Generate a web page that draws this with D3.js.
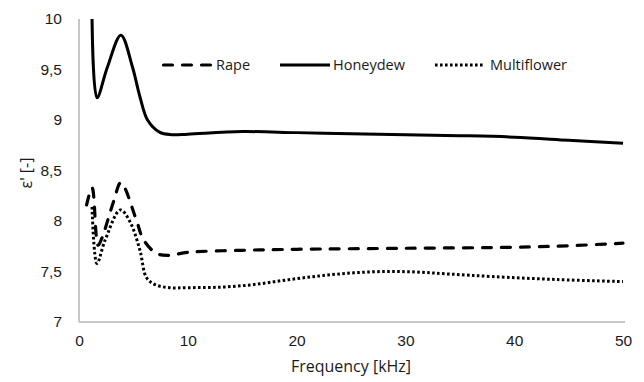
<!DOCTYPE html>
<html>
<head>
<meta charset="utf-8">
<script src="https://cdn.jsdelivr.net/npm/d3@7"></script>
<style>
  html, body { margin: 0; padding: 0; background: #fff; }
  svg { display: block; font-family: "Open Sans", "Liberation Sans", sans-serif; }
</style>
</head>
<body>
<svg id="chart" width="644" height="382"></svg>
<script>
// Permittivity of honey types vs. frequency
const honeydewFreq = [1.2, 1.65, 2.6, 3.85, 4.9, 5.6, 6.3, 7.4, 8.5, 10, 15, 20, 25, 30, 35, 40, 45, 50];
const honeydewVals = [10.0, 9.22, 9.52, 9.84, 9.53, 9.23, 9.0, 8.88, 8.855, 8.86, 8.885, 8.875, 8.865, 8.855, 8.845, 8.83, 8.80, 8.77];

const rapeFreq = [0.7, 1.2, 1.75, 2.1, 3.2, 3.85, 5.3, 5.9, 7.1, 8.2, 10, 15, 20, 30, 40, 45, 50];
const rapeVals = [8.16, 8.33, 7.76, 7.83, 8.2, 8.38, 8.0, 7.82, 7.68, 7.66, 7.69, 7.71, 7.72, 7.73, 7.74, 7.755, 7.78];

const multiFreq = [1.2, 1.65, 2.4, 3.8, 4.7, 5.6, 6.2, 7.0, 8.3, 10, 13, 16, 19, 22, 25, 28, 31, 34, 38, 44, 50];
const multiVals = [8.14, 7.58, 7.81, 8.11, 7.99, 7.71, 7.44, 7.37, 7.34, 7.34, 7.345, 7.37, 7.415, 7.455, 7.485, 7.50, 7.495, 7.475, 7.45, 7.42, 7.40];

const xTicks = [0, 10, 20, 30, 40, 50];
const yTicks = [7, 7.5, 8, 8.5, 9, 9.5, 10];

const seriesNames = ["Rape", "Honeydew", "Multiflower"];

const svg = d3.select("#chart");
const plotLeft = 79, plotRight = 623, plotTop = 19, plotBottom = 322;

const x = d3.scaleLinear().domain([0, 50]).range([plotLeft, plotRight]);
const y = d3.scaleLinear().domain([7, 10]).range([plotBottom, plotTop]);

const fmt = v => String(v).replace(".", ",");
const textColor = "#1a1a1a";

// Axes
const xAxis = svg.append("g").attr("transform", `translate(0,${plotBottom})`)
  .call(d3.axisBottom(x).tickValues(xTicks).tickSize(0).tickPadding(13).tickFormat(d => d));
xAxis.select(".domain").attr("stroke", "#c8c8c8").attr("stroke-width", 2)
  .attr("d", `M${plotLeft},0H${plotRight + 2}`);
xAxis.selectAll("text").attr("font-size", 15.5).attr("fill", textColor);

const yAxis = svg.append("g").attr("transform", `translate(${plotLeft},0)`)
  .call(d3.axisLeft(y).tickValues(yTicks).tickSize(0).tickPadding(17).tickFormat(fmt));
yAxis.select(".domain").attr("stroke", "#c8c8c8").attr("stroke-width", 2)
  .attr("d", `M0,${plotTop}V${plotBottom}`);
yAxis.selectAll("text").attr("font-size", 15.5).attr("fill", textColor);

// Axis titles
svg.append("text").attr("x", 351).attr("y", 372).attr("text-anchor", "middle")
  .attr("font-size", 16).attr("fill", textColor).text("Frequency [kHz]");
svg.append("text").attr("transform", "translate(32,173) rotate(-90)")
  .attr("text-anchor", "middle").attr("font-size", 16).attr("fill", textColor).text("ε' [-]");

// Curves
const line = d3.line().x(d => x(d[0])).y(d => y(d[1])).curve(d3.curveCatmullRom.alpha(0.5));
const styles = {
  Rape: { dash: "9,10", cap: "round", w: 3.2 },
  Honeydew: { dash: null, cap: "butt", w: 3 },
  Multiflower: { dash: "2.6,2.4", cap: "butt", w: 3 }
};
const data = {
  Rape: d3.zip(rapeFreq, rapeVals),
  Honeydew: d3.zip(honeydewFreq, honeydewVals),
  Multiflower: d3.zip(multiFreq, multiVals)
};

seriesNames.forEach(name => {
  const s = styles[name];
  svg.append("path").datum(data[name]).attr("d", line)
    .attr("fill", "none").attr("stroke", "#000").attr("stroke-width", s.w)
    .attr("stroke-linecap", s.cap).attr("stroke-dasharray", s.dash);
});

// Legend
const legendItems = [
  { name: "Rape", x1: 162, x2: 213, tx: 216 },
  { name: "Honeydew", x1: 280, x2: 330, tx: 333 },
  { name: "Multiflower", x1: 435, x2: 484, tx: 490 }
];
const legY = 65;
legendItems.forEach(it => {
  const s = styles[it.name];
  svg.append("line").attr("x1", it.x1 + (s.cap === "round" ? 1.5 : 0)).attr("x2", it.x2 - (s.cap === "round" ? 1.5 : 0))
    .attr("y1", legY).attr("y2", legY)
    .attr("stroke", "#000").attr("stroke-width", s.w)
    .attr("stroke-linecap", s.cap).attr("stroke-dasharray", s.dash);
  svg.append("text").attr("x", it.tx).attr("y", legY + 5).attr("font-size", 14.5)
    .attr("fill", textColor).text(it.name);
});
</script>
</body>
</html>
